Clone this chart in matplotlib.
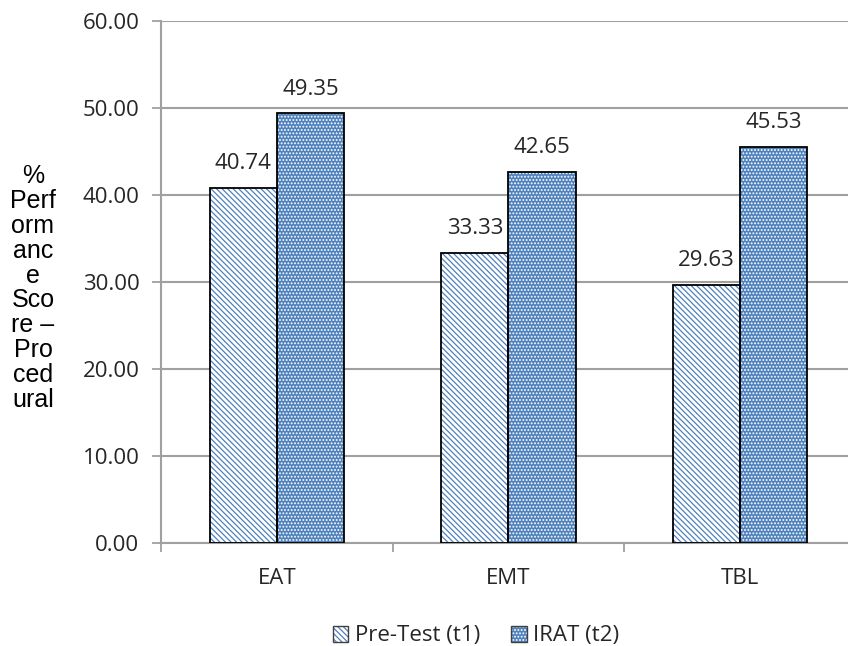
import numpy as np
import matplotlib.pyplot as plt
from matplotlib.patches import Patch

# Puntajes por grupo
categorias = ['EAT', 'EMT', 'TBL']
pre_test = [40.74, 33.33, 29.63]
irat = [49.35, 42.65, 45.53]
series = ['Pre-Test (t1)', 'IRAT (t2)']
y_ticks = [0, 10, 20, 30, 40, 50, 60]

azul = '#4F81BD'
gris = '#A0A0A0'
texto = '#262626'

plt.rcParams['font.family'] = ['Open Sans', 'DejaVu Sans']
plt.rcParams['hatch.linewidth'] = 0.9

fig = plt.figure(figsize=(8.48, 6.46), dpi=100)
ax = fig.add_axes([161/848, 103/646, 695/848, 522.3/646])

x = np.arange(len(categorias))
w = 0.29

#Capa con el patrón y luego el contorno negro
ax.bar(x - w/2, pre_test, w, color='white', edgecolor=azul, hatch='\\\\\\\\\\\\', linewidth=0, zorder=2)
ax.bar(x - w/2, pre_test, w, fill=False, edgecolor='black', linewidth=1.3, zorder=3)
ax.bar(x + w/2, irat, w, color=azul, edgecolor='white', hatch='.....', linewidth=0, zorder=2)
ax.bar(x + w/2, irat, w, fill=False, edgecolor='black', linewidth=1.3, zorder=3)

#Etiquetas de valor
for xs, vals in [(x - w/2, pre_test), (x + w/2, irat)]:
    for xi, v in zip(xs, vals):
        ax.annotate(f'{v:.2f}', (xi, v), xytext=(0, 10), textcoords='offset points',
                    ha='center', va='bottom', fontsize=16, color=texto)

ax.set_xlim(-0.5, 2.5)
ax.set_ylim(0, 60)
ax.set_yticks(y_ticks)
ax.set_yticklabels([f'{t:.2f}' for t in y_ticks])
ax.set_xticks(x)
ax.set_xticklabels(categorias)
ax.set_xticks([-0.5, 0.5, 1.5, 2.5], minor=True)

ax.grid(axis='y', color=gris, linewidth=1.5, zorder=0)
ax.set_axisbelow(True)
for lado in ['top', 'right']:
    ax.spines[lado].set_visible(False)
for lado in ['left', 'bottom']:
    ax.spines[lado].set_color(gris)
    ax.spines[lado].set_linewidth(1.5)

ax.tick_params(axis='y', length=6.5, width=1.3, color=gris, pad=9, labelsize=16, labelcolor=texto)
ax.tick_params(axis='x', which='major', length=0, pad=18, labelsize=16, labelcolor=texto)
ax.tick_params(axis='x', which='minor', length=6.5, width=1.3, color=gris)

#Título del eje Y en varias líneas
fig.text(33/848, 1 - 288/646, '%\nPerf\norm\nanc\ne\nSco\nre –\nPro\nced\nural',
         ha='center', va='center', multialignment='center', fontsize=18,
         family='Liberation Sans', color='black', linespacing=1.05)

#Leyenda
borde = Patch(facecolor='none', edgecolor='#404040', linewidth=1)
h1 = (Patch(facecolor='white', edgecolor=azul, hatch='\\\\\\\\\\\\', linewidth=0), borde)
h2 = (Patch(facecolor=azul, edgecolor='white', hatch='.....', linewidth=0), borde)
fig.legend([h1, h2], series, loc='center', bbox_to_anchor=(476/848, 1 - 636/646),
           ncol=2, frameon=False, fontsize=16, handlelength=0.7, handleheight=0.7,
           handletextpad=0.3, columnspacing=1.4, labelcolor=texto)

fig.savefig('out.png', dpi=100)
